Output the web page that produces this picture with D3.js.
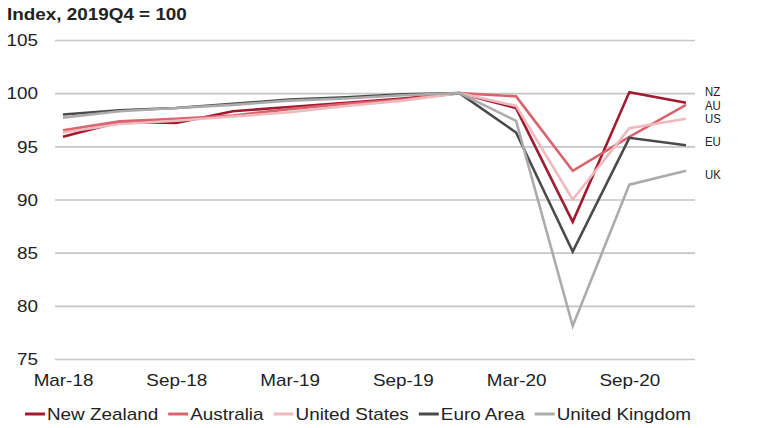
<!DOCTYPE html>
<meta charset="utf-8">
<script src="https://d3js.org/d3.v7.min.js"></script>
<style>
body { margin: 0; background: #fff; }
text { font-family: "Liberation Sans", Arial, sans-serif; fill: #222; }
.line { fill: none; stroke-width: 2.6px; stroke-linejoin: miter; }
</style>
<body>
<div id="chart"></div>
<script>
// data
var quarters = ['Mar-18','Jun-18','Sep-18','Dec-18','Mar-19','Jun-19','Sep-19','Dec-19','Mar-20','Jun-20','Sep-20','Dec-20'];
var xTickLabels = ['Mar-18','Sep-18','Mar-19','Sep-19','Mar-20','Sep-20'];
var yTicks = [75, 80, 85, 90, 95, 100, 105];

var seriesNames = ['New Zealand', 'Australia', 'United States', 'Euro Area', 'United Kingdom'];
var seriesCodes = ['NZ', 'AU', 'US', 'EU', 'UK'];
var newZealand    = [95.9, 97.3, 97.2, 98.3, 98.7, 99.1, 99.5, 100, 98.6, 87.9, 100.1, 99.1];
var australia     = [96.5, 97.35, 97.6, 97.9, 98.5, 99.0, 99.4, 100, 99.7, 92.7, 95.9, 98.9];
var unitedStates  = [96.3, 97.1, 97.4, 97.8, 98.2, 98.8, 99.3, 100, 98.8, 90.0, 96.7, 97.6];
var euroArea      = [98.0, 98.4, 98.6, 99.0, 99.4, 99.6, 99.9, 100, 96.3, 85.1, 95.8, 95.1];
var unitedKingdom = [97.7, 98.3, 98.6, 98.9, 99.3, 99.5, 99.8, 100, 97.4, 78.1, 91.4, 92.7];
var seriesValues = [newZealand, australia, unitedStates, euroArea, unitedKingdom];

var groupColor = ['#a21a30', '#d9646f', '#efb9bd', '#4a4a4a', '#ababab'];

// size
var W = 760, H = 428;
var gridLeft = 55, gridRight = 695;
var sx = 1.18;   // the reference text is drawn a bit wide

var svg = d3.select('#chart').append('svg')
    .attr('width', W)
    .attr('height', H);

var xscale = d3.scalePoint()
    .domain(quarters)
    .range([63, 686]);

var yscale = d3.scaleLinear()
    .domain([75, 105])
    .range([359, 40]);

// y axis with gridlines
var yaxis = d3.axisLeft(yscale)
    .tickValues(yTicks)
    .tickSize(-(gridRight - gridLeft))
    .tickPadding(0);

var gy = svg.append('g')
    .attr('transform', 'translate(' + gridLeft + ',0)')
    .call(yaxis);
gy.select('.domain').remove();
gy.selectAll('.tick line')
    .attr('stroke', '#c6c6c6')
    .attr('stroke-width', 1.6);
gy.selectAll('.tick text')
    .attr('x', -17 / sx)
    .attr('dy', '0.36em')
    .attr('transform', 'scale(' + sx + ',1)')
    .style('font-size', '16px')
    .attr('fill', '#222');

// x axis
var xaxis = d3.axisBottom(xscale)
    .tickValues(xTickLabels)
    .tickSize(0);

var gx = svg.append('g')
    .attr('transform', 'translate(0,359)')
    .call(xaxis);
gx.select('.domain').remove();
gx.selectAll('.tick text')
    .attr('y', 27)
    .attr('dy', null)
    .attr('transform', 'scale(' + sx + ',1)')
    .style('font-size', '16px')
    .attr('fill', '#222');

// title
svg.append('text')
    .text('Index, 2019Q4 = 100')
    .attr('transform', 'translate(7,20) scale(' + sx + ',1)')
    .style('font-size', '16px')
    .style('font-weight', 'bold');

// lines
var line = d3.line()
    .x(function(d, i) { return xscale(quarters[i]); })
    .y(function(d) { return yscale(d); });

for (var i = 0; i < seriesValues.length; i++) {
    svg.append('path')
        .datum(seriesValues[i])
        .attr('class', 'line')
        .style('stroke', groupColor[i])
        .attr('d', line);
}

// end labels, stacked close together
var labelY = [92, 105.5, 119, 141.7, 174.3];
for (var i = 0; i < seriesCodes.length; i++) {
    svg.append('text')
        .text(seriesCodes[i])
        .attr('transform', 'translate(705,' + labelY[i] + ') scale(0.95,1)')
        .attr('dy', '0.36em')
        .style('font-size', '12px');
}

// legend
var legendX = 25, legendY = 414;
var legend = svg.append('g');
for (var i = 0; i < seriesNames.length; i++) {
    legend.append('line')
        .attr('x1', legendX).attr('x2', legendX + 20)
        .attr('y1', legendY).attr('y2', legendY)
        .attr('stroke', groupColor[i])
        .attr('stroke-width', 3);
    var t = legend.append('text')
        .text(seriesNames[i])
        .attr('transform', 'translate(' + (legendX + 22) + ',' + legendY + ') scale(' + sx + ',1)')
        .attr('dy', '0.36em')
        .style('font-size', '16px');
    legendX = legendX + 22 + t.node().getComputedTextLength() * sx + 10;
}
</script>
</body>
